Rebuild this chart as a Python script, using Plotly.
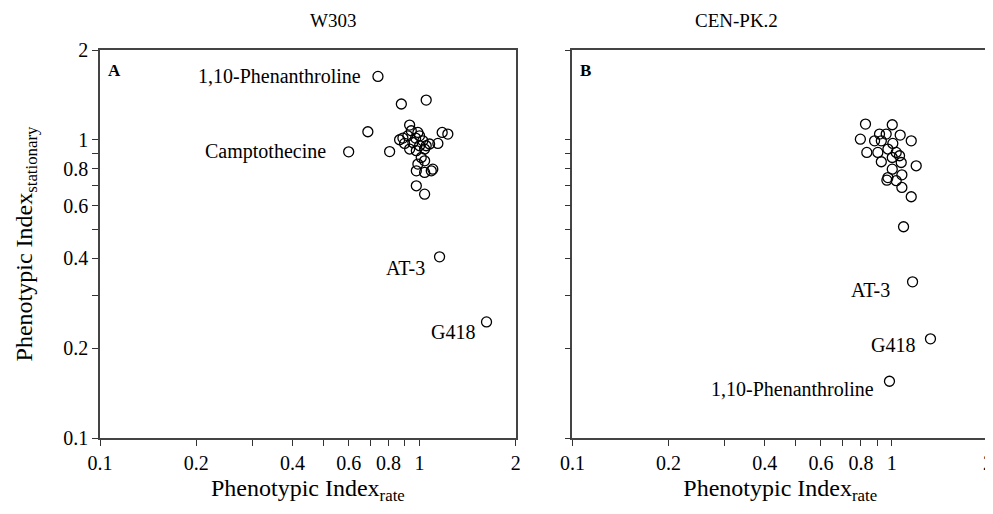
import math
import plotly.graph_objects as go

# ---------------- data ----------------
# Panel A (W303)
a_rate = [0.741, 0.600, 1.155, 1.620,
          0.877, 1.049, 0.689, 0.806, 0.931, 1.177, 1.226, 1.141, 1.075, 0.866,
          0.898, 0.919, 0.972, 1.000, 1.024, 0.931, 0.977, 1.000, 1.037, 0.953,
          0.988, 1.049, 1.012, 1.037, 0.988, 0.977, 1.037, 1.088, 1.100, 0.977,
          1.037, 0.887, 0.942]
a_stat = [1.631, 0.911, 0.405, 0.245,
          1.318, 1.359, 1.064, 0.913, 1.120, 1.058, 1.045, 0.972, 0.968, 1.000,
          0.972, 1.031, 1.013, 1.031, 0.992, 0.931, 0.919, 0.955, 0.931, 0.979,
          1.058, 0.955, 0.872, 0.850, 0.829, 0.787, 0.777, 0.787, 0.797, 0.701,
          0.657, 1.013, 1.072]
a_labels = ["1,10-Phenanthroline", "Camptothecine", "AT-3", "G418"]
a_label_idx = [0, 1, 2, 3]

# Panel B (CEN-PK.2)
b_rate = [0.827, 1.003, 0.797, 0.883, 0.915, 0.960, 1.062, 1.150, 0.835, 0.904,
          0.927, 1.007, 0.972, 1.032, 1.057, 0.927, 1.003, 1.070, 1.192, 1.003,
          0.972, 0.965, 1.032, 1.075, 1.075, 1.150, 1.088,
          1.161, 1.321, 0.983]
b_stat = [1.129, 1.123, 1.005, 0.992, 1.045, 1.045, 1.037, 0.992, 0.907, 0.907,
          0.992, 0.972, 0.931, 0.907, 0.884, 0.844, 0.872, 0.839, 0.818, 0.797,
          0.747, 0.732, 0.729, 0.763, 0.692, 0.644, 0.511,
          0.334, 0.215, 0.155]
b_labels = ["AT-3", "G418", "1,10-Phenanthroline"]
b_label_idx = [27, 28, 29]

tick_vals = [0.1, 0.2, 0.3, 0.4, 0.5, 0.6, 0.7, 0.8, 0.9, 1, 2]
tick_text = ["0.1", "0.2", "", "0.4", "", "0.6", "", "0.8", "", "1", "2"]

panel_titles = ["W303", "CEN-PK.2"]
panel_letters = ["A", "B"]

# label offsets (style, pixels)
a_shift = [(-15, 0), (-21, 0), (-13, -11), (-10, -10)]
b_shift = [(-21, -8), (-13, -6), (-13, -8)]

FONT = "Liberation Serif, Times New Roman, serif"
LAB = dict(family=FONT, size=20, color="black")

fig = go.Figure()

marker = dict(symbol="circle-open", size=10, color="black", line=dict(width=1.3, color="black"))
fig.add_trace(go.Scatter(x=a_rate, y=a_stat, mode="markers", marker=marker,
                         xaxis="x", yaxis="y", showlegend=False))
fig.add_trace(go.Scatter(x=b_rate, y=b_stat, mode="markers", marker=marker,
                         xaxis="x2", yaxis="y2", showlegend=False))

annotations = []
for lab, i, (dx, dy) in zip(a_labels, a_label_idx, a_shift):
    annotations.append(dict(x=math.log10(a_rate[i]), y=math.log10(a_stat[i]),
                            xref="x", yref="y", text=lab, showarrow=False,
                            xanchor="right", yanchor="middle", xshift=dx, yshift=dy,
                            font=LAB))
for lab, i, (dx, dy) in zip(b_labels, b_label_idx, b_shift):
    annotations.append(dict(x=math.log10(b_rate[i]), y=math.log10(b_stat[i]),
                            xref="x2", yref="y2", text=lab, showarrow=False,
                            xanchor="right", yanchor="middle", xshift=dx, yshift=dy,
                            font=LAB))

dom_a = [0.0, 0.4682]
dom_b = [0.532, 1.0]
for dom, t, letter in zip([dom_a, dom_b], panel_titles, panel_letters):
    annotations.append(dict(x=(dom[0] + dom[1]) / 2, y=1, xref="paper", yref="paper",
                            text=t, showarrow=False, yanchor="middle", yshift=30,
                            font=dict(family=FONT, size=19, color="black")))
    annotations.append(dict(x=dom[0], y=1, xref="paper", yref="paper",
                            text="<b>" + letter + "</b>", showarrow=False,
                            xanchor="left", yanchor="top", xshift=6, yshift=-9,
                            font=dict(family=FONT, size=17, color="black")))

axis_common = dict(type="log", range=[-1, 0.30103], tickmode="array",
                   tickvals=tick_vals, ticktext=tick_text, ticks="outside", ticklen=6,
                   tickwidth=1.2, tickcolor="#333", showline=True, linecolor="#444",
                   linewidth=1.5, mirror=True, showgrid=False, zeroline=False,
                   automargin=False, ticklabeloverflow="allow",
                   tickfont=dict(family=FONT, size=20, color="black"))

xtitle = dict(text="Phenotypic Index<sub>rate</sub>", font=dict(family=FONT, size=24, color="black"), standoff=6)
ytitle = dict(text="Phenotypic Index<sub>stationary</sub>", font=dict(family=FONT, size=24, color="black"), standoff=24)

# the page body adds an 8px offset, so the figure is sized to fit the window
fig.update_layout(
    width=985, height=498,
    margin=dict(l=92, r=5, t=42, b=68),
    plot_bgcolor="white", paper_bgcolor="white",
    xaxis=dict(domain=dom_a, title=xtitle, anchor="y", **axis_common),
    yaxis=dict(domain=[0, 1], title=ytitle, anchor="x", **axis_common),
    xaxis2=dict(domain=dom_b, title=xtitle, anchor="y2", **axis_common),
    yaxis2=dict(domain=[0, 1], anchor="x2", showticklabels=False, **axis_common),
    annotations=annotations,
    font=dict(family=FONT, color="black"),
)

fig.write_html("out.html")
